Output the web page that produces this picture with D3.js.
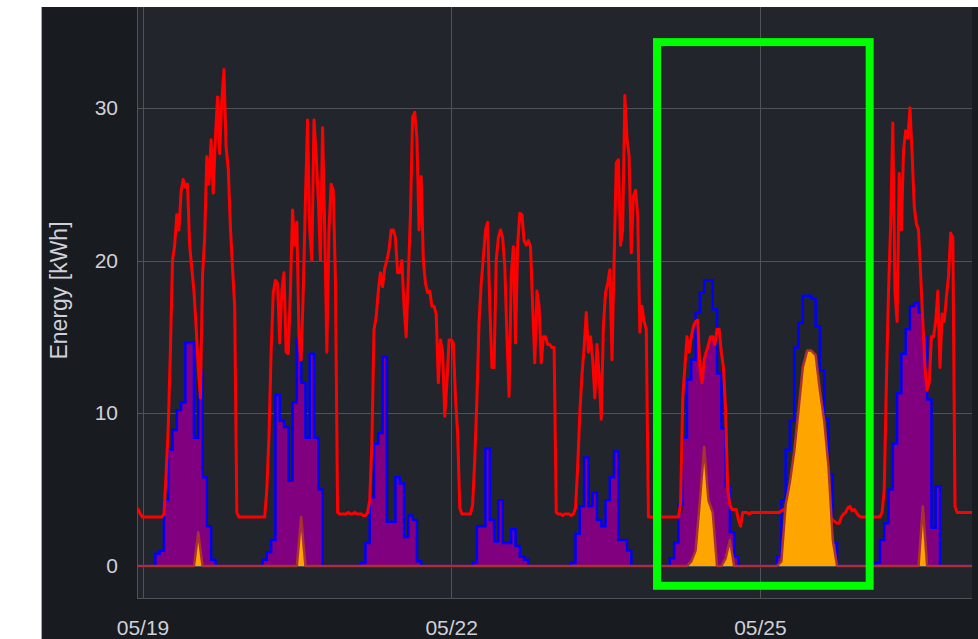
<!DOCTYPE html>
<html>
<head>
<meta charset="utf-8">
<script src="https://cdn.jsdelivr.net/npm/d3@7/dist/d3.min.js"></script>
<style>
  html, body { margin: 0; padding: 0; background: #fff; }
  svg { display: block; }
  text { font-family: "Liberation Sans", Arial, sans-serif; }
</style>
</head>
<body>
<div id="chart"></div>
<script>
// all series start at 2023-05-18 22:00 UTC
const startTime = Date.UTC(2023, 4, 18, 22);

// red line: consumption [kWh], one value every 30 min
const consumption = [
  3.8, 3.8, 3.7, 3.4,
  // 05/19
  3.2, 3.2, 3.2, 3.2, 3.2, 3.2, 3.2, 3.2, 3.2, 3.2,
  3.4, 6, 9, 14, 20, 21, 23, 22, 24.5, 25.3,
  24.8, 25, 21, 19.5, 18, 15.7, 13, 11, 19, 21.5,
  26.8, 25, 27.9, 24.4, 28, 30.7, 27, 30.5, 32.5, 27.4,
  26, 22.2, 19.5, 17, 3.5, 3.2, 3.2, 3.2,
  // 05/20
  3.2, 3.2, 3.2, 3.2, 3.2, 3.2, 3.2, 3.2, 3.2, 3.2,
  5, 8.5, 14, 17.9, 18.7, 18.5, 14.6, 18, 19.2, 14,
  13.9, 18, 23.3, 21, 22.5, 15, 13.5, 18, 24, 29.2,
  22, 20, 29.2, 27, 24, 20, 28.7, 22, 14, 22,
  25, 24.6, 18.7, 3.5, 3.4, 3.4, 3.4, 3.4,
  // 05/21
  3.5, 3.4, 3.4, 3.5, 3.4, 3.4, 3.4, 3.3, 3.3, 3.5,
  4.3, 8, 15.5, 16.3, 18, 19.2, 18.3, 19.5, 20, 20.7,
  22, 22, 21.5, 19.2, 19.2, 20, 17, 15, 19, 23,
  29.4, 29.7, 28, 22, 25.5, 20, 18.5, 17.9, 18, 17,
  17, 16.5, 12, 14.8, 14, 9.8, 12, 14.8,
  // 05/22
  14.8, 14.6, 11, 8.7, 3.8, 3.4, 3.4, 3.4, 3.4, 3.4,
  4, 7, 11, 16, 18.5, 20.2, 22, 22.5, 17, 13,
  13, 20, 21.5, 22, 21.5, 19.6, 15, 11.1, 19, 20.9,
  14.6, 21, 23.1, 23, 21.3, 21, 21.3, 20.9, 17, 13.3,
  18, 17, 13.3, 15, 15, 14.5, 14.5, 14.3,
  // 05/23
  14.3, 3.5, 3.4, 3.4, 3.3, 3.4, 3.4, 3.4, 3.3, 3.4,
  3.8, 6.5, 10, 12.5, 14.3, 16.6, 14, 15, 13.5, 11,
  14.5, 12.5, 9.6, 15.7, 17.9, 18.5, 19.4, 13.5, 20, 26.4,
  26.6, 21, 22, 30.8, 28, 26.8, 20.5, 24.2, 24.6, 23,
  15.3, 17, 16, 15.5, 3.2, 3.2, 3.2, 3.2,
  // 05/24
  3.2, 3.2, 3.2, 3.2, 3.2, 3.2, 3.2, 3.2, 3.2, 3.2,
  3.2, 4.1, 11, 13, 15, 14, 15, 15.7, 16, 16.1,
  13, 12, 13.5, 14, 14.5, 15, 15, 14.5, 15.5, 15.5,
  14, 13, 10.2, 5, 4, 3.7, 3.7, 3.7, 3, 2.6,
  3.5, 3.5, 3.5, 3.4, 3.5, 3.5, 3.5, 3.5,
  // 05/25
  3.5, 3.5, 3.5, 3.5, 3.5, 3.5, 3.5, 3.5, 3.5, 3.5,
  3.6, 3.7, 3.5, 3.5, 3.5, 3.5, 3.5, 3.5, 3.5, 3.5,
  3.5, 3.5, 3.5, 3.5, 3.5, 3.5, 3.5, 3.5, 3.5, 3.5,
  3.5, 3.5, 3.3, 3.2, 3, 2.9, 2.8, 2.8, 3.2, 3.4,
  3.5, 3.8, 3.9, 3.6, 3.7, 3.5, 3.3, 3.2,
  // 05/26
  3.2, 3.2, 3.2, 3.2, 3.2, 3.2, 3.2, 3.2, 3.2, 3.5,
  5, 12, 18, 22.4, 29, 18, 16, 25.7, 22, 27.2,
  28.5, 28, 30, 27, 23.5, 22.4, 22, 19, 16, 13,
  11.5, 12, 15, 15, 16, 18, 13, 16.5, 16, 17.6,
  19, 21.8, 21.5, 3.9, 3.5, 3.5, 3.5, 3.5,
  // 05/27
  3.5, 3.5, 3.5, 3.5, 3.5, 3.5, 3.5, 3.5
];

// blue line: PV production [kWh], hourly
const production = [
  0, 0,
  0, 0, 0, 0.8, 1.0, 4.3, 7.6, 8.9, 10.2, 10.7, 14.6, 14.6, 8.4, 12.8, 5.8, 2.6, 0.4, 0, 0, 0, 0, 0, 0, 0,
  0, 0, 0, 0, 0.4, 0.9, 1.7, 11.2, 9.5, 9.1, 5.6, 10.7, 14.9, 12, 8.4, 13.9, 8.4, 5, 0, 0, 0, 0, 0, 0,
  0, 0, 0, 0.2, 1.5, 4.5, 8, 8.7, 13.7, 2.9, 2.9, 5.8, 5.4, 1.9, 3.3, 3.0, 0.3, 0, 0, 0, 0, 0, 0, 0,
  0, 0, 0, 0, 0, 0.2, 2.6, 2.6, 7.7, 3.0, 1.6, 4.3, 1.5, 1.5, 2.4, 1.3, 0.6, 0.4, 0, 0, 0, 0, 0, 0,
  0, 0, 0, 0, 0.2, 2.1, 3.9, 7.1, 3.9, 4.8, 3, 2.6, 4.3, 5.8, 7.5, 1.7, 1.7, 1, 0, 0, 0, 0, 0, 0,
  0, 0, 0, 0.5, 1.5, 4, 8.4, 12.2, 13.5, 16.6, 17.9, 18.7, 18.7, 16.8, 12.6, 9, 5.2, 2.2, 0.6, 0, 0, 0, 0, 0,
  0, 0, 0, 0, 0.6, 4.3, 7.6, 9.5, 14.3, 15.9, 17.7, 17.7, 17.5, 15.7, 12.8, 9.6, 6, 1.5, 0, 0, 0, 0, 0, 0,
  0, 0, 0, 0.2, 1.7, 2.8, 5, 8, 11.3, 13.9, 15.5, 17, 17.2, 16.6, 15, 10.9, 2.5, 5.2, 0, 0, 0, 0, 0, 0,
  0, 0, 0, 0
];

// purple area: self consumption [kWh], hourly
const selfUse = [
  0, 0,
  0, 0, 0, 0.8, 1.0, 4.3, 7.6, 8.9, 10.2, 10.7, 14.6, 14.6, 8.4, 12.8, 5.8, 2.6, 0.4, 0, 0, 0, 0, 0, 0, 0,
  0, 0, 0, 0, 0.4, 0.9, 1.7, 11.2, 9.5, 9.1, 5.6, 10.7, 14.9, 12, 8.4, 13.9, 8.4, 5, 0, 0, 0, 0, 0, 0,
  0, 0, 0, 0.2, 1.5, 4.5, 8, 8.7, 13.7, 2.9, 2.9, 5.8, 5.4, 1.9, 3.3, 3.0, 0.3, 0, 0, 0, 0, 0, 0, 0,
  0, 0, 0, 0, 0, 0.2, 2.6, 2.6, 7.7, 3.0, 1.6, 4.3, 1.5, 1.5, 2.4, 1.3, 0.6, 0.4, 0, 0, 0, 0, 0, 0,
  0, 0, 0, 0, 0.2, 2.1, 3.9, 7.1, 3.9, 4.8, 3, 2.6, 4.3, 5.8, 7.5, 1.7, 1.7, 1, 0, 0, 0, 0, 0, 0,
  0, 0, 0, 0.5, 1.5, 3.5, 8.4, 12.2, 13.5, 15.5, 13, 14, 15, 15, 12.6, 9, 5.2, 2.2, 0.6, 0, 0, 0, 0, 0,
  0, 0, 0, 0, 0.6, 1.5, 3.3, 3.3, 3.3, 3.3, 3.3, 3.3, 3.3, 3.3, 3.3, 3.3, 3.3, 1.5, 0, 0, 0, 0, 0, 0,
  0, 0, 0, 0.2, 1.7, 2.8, 5, 8, 11.3, 13.9, 15.5, 17, 17.2, 16.6, 15, 10.9, 2.5, 5.2, 0, 0, 0, 0, 0, 0,
  0, 0, 0, 0
];

// orange area: battery charge [kWh], hourly
const charge = [
  0, 0,
  0, 0, 0, 0, 0, 0, 0, 0, 0, 0, 0, 0, 0, 2.2, 0, 0, 0, 0, 0, 0, 0, 0, 0, 0,
  0, 0, 0, 0, 0, 0, 0, 0, 0, 0, 0, 0, 0, 3.2, 0, 0, 0, 0, 0, 0, 0, 0, 0, 0,
  0, 0, 0, 0, 0, 0, 0, 0, 0, 0, 0, 0, 0, 0, 0, 0, 0, 0, 0, 0, 0, 0, 0, 0,
  0, 0, 0, 0, 0, 0, 0, 0, 0, 0, 0, 0, 0, 0, 0, 0, 0, 0, 0, 0, 0, 0, 0, 0,
  0, 0, 0, 0, 0, 0, 0, 0, 0, 0, 0, 0, 0, 0, 0, 0, 0, 0, 0, 0, 0, 0, 0, 0,
  0, 0, 0, 0, 0, 0, 0, 0, 0.3, 1, 4.3, 7.8, 4.3, 3.5, 0, 0, 0.5, 1.7, 0, 0, 0, 0, 0, 0,
  0, 0, 0, 0, 0, 0.3, 4, 5.5, 7.5, 10.2, 13, 14.1, 14.1, 13.8, 11.5, 9.5, 6.5, 1.7, 0, 0, 0, 0, 0, 0,
  0, 0, 0, 0, 0, 0, 0, 0, 0, 0, 0, 0, 0, 0, 3.9, 0, 0, 0, 0, 0, 0, 0, 0, 0,
  0, 0, 0, 0
];

const xTicks = [Date.UTC(2023, 4, 19), Date.UTC(2023, 4, 22), Date.UTC(2023, 4, 25)];
const yTicks = [0, 10, 20, 30];

// green highlight box (time range and value range)
const highlightTime = [Date.UTC(2023, 4, 24, 0, 0), Date.UTC(2023, 4, 26, 1, 36)];
const highlightValue = [-1.3, 34.3];

const W = 978, H = 639;
const plot = {left: 137, right: 972, top: 7, bottom: 598};

const x = d3.scaleUtc()
  .domain([new Date(Date.UTC(2023, 4, 18, 22, 43)), new Date(Date.UTC(2023, 4, 27, 1, 28))])
  .range([plot.left, plot.right]);
const y = d3.scaleLinear().domain([-2.1, 36.6]).range([plot.bottom, plot.top]);

// hourly rows for the PV / self use / charge series
const hourly = production.map(function(v, i) {
  return {
    t: new Date(startTime + i * 3600e3),
    pv: v,
    self: selfUse[i],
    chg: charge[i]
  };
});
// half hourly rows for the consumption
const halfHourly = consumption.map(function(v, i) {
  return {t: new Date(startTime + i * 1800e3), cons: v};
});

const svg = d3.select("#chart").append("svg")
  .attr("width", W)
  .attr("height", H);

// panel
svg.append("rect").attr("x", 41).attr("y", 7).attr("width", W - 41).attr("height", H - 7).attr("fill", "#181b1f");
svg.append("line").attr("x1", 41.5).attr("x2", 41.5).attr("y1", 7).attr("y2", H)
  .attr("stroke", "#a8a8a8").attr("stroke-width", 1);

svg.append("rect")
  .attr("x", plot.left).attr("y", plot.top)
  .attr("width", plot.right - plot.left).attr("height", plot.bottom - plot.top)
  .attr("fill", "#22252b");

// grid
const grid = svg.append("g").attr("stroke", "#4f5257").attr("stroke-width", 1);
grid.selectAll(".gx").data(xTicks).enter().append("line")
  .attr("x1", d => Math.round(x(d)) + 0.5).attr("x2", d => Math.round(x(d)) + 0.5)
  .attr("y1", plot.top).attr("y2", plot.bottom);
grid.selectAll(".gy").data(yTicks).enter().append("line")
  .attr("x1", plot.left).attr("x2", plot.right)
  .attr("y1", d => Math.round(y(d)) + 0.5).attr("y2", d => Math.round(y(d)) + 0.5);
// marco del area de dibujo (izquierda / abajo)
grid.append("line").attr("x1", plot.left + 0.5).attr("x2", plot.left + 0.5).attr("y1", plot.top).attr("y2", plot.bottom);
grid.append("line").attr("x1", plot.left).attr("x2", plot.right).attr("y1", plot.bottom + 0.5).attr("y2", plot.bottom + 0.5);

svg.append("defs").append("clipPath").attr("id", "plotClip")
  .append("rect")
  .attr("x", plot.left + 1).attr("y", plot.top)
  .attr("width", plot.right - plot.left - 1).attr("height", plot.bottom - plot.top);

const g = svg.append("g").attr("clip-path", "url(#plotClip)");

const selfArea = d3.area().curve(d3.curveStepAfter)
  .x(d => x(d.t)).y0(y(0)).y1(d => y(d.self));
const pvLine = d3.line().curve(d3.curveStepAfter)
  .x(d => x(d.t)).y(d => y(d.pv));
const consLine = d3.line()
  .x(d => x(d.t)).y(d => y(d.cons));
const chgArea = d3.area()
  .x(d => x(d.t)).y0(y(0)).y1(d => y(d.chg));
const chgLine = d3.line()
  .x(d => x(d.t)).y(d => y(d.chg));

g.append("path").datum(hourly).attr("d", selfArea).attr("fill", "#800080");
g.append("path").datum(hourly).attr("d", pvLine)
  .attr("fill", "none").attr("stroke", "#0000ff").attr("stroke-width", 2.5);
g.append("path").datum(halfHourly).attr("d", consLine)
  .attr("fill", "none").attr("stroke", "#ff0000").attr("stroke-width", 3)
  .attr("stroke-linejoin", "round");
g.append("path").datum(hourly).attr("d", chgArea).attr("fill", "#ffa500");
g.append("path").datum(hourly).attr("d", chgLine)
  .attr("fill", "none").attr("stroke", "#a8322f").attr("stroke-width", 2.5)
  .attr("stroke-linejoin", "round");

// ejes (solo etiquetas)
const axisX = svg.append("g")
  .attr("transform", "translate(0," + plot.bottom + ")")
  .call(d3.axisBottom(x).tickValues(xTicks.map(d => new Date(d)))
    .tickFormat(d3.utcFormat("%m/%d")).tickSize(0).tickPadding(22));
const axisY = svg.append("g")
  .attr("transform", "translate(" + plot.left + ",0)")
  .call(d3.axisLeft(y).tickValues(yTicks).tickSize(0).tickPadding(19));
[axisX, axisY].forEach(function(a) {
  a.select(".domain").remove();
  a.selectAll("text").attr("fill", "#d0d0da").style("font-size", "21px")
    .style("font-family", "'Liberation Sans', Arial, sans-serif");
});

svg.append("text")
  .attr("transform", "translate(67," + ((plot.top + plot.bottom) / 2 - 12) + ") rotate(-90)")
  .attr("text-anchor", "middle")
  .attr("fill", "#d0d0da")
  .style("font-size", "23px")
  .text("Energy [kWh]");

// highlight box
svg.append("rect")
  .attr("x", x(new Date(highlightTime[0])))
  .attr("y", y(highlightValue[1]))
  .attr("width", x(new Date(highlightTime[1])) - x(new Date(highlightTime[0])))
  .attr("height", y(highlightValue[0]) - y(highlightValue[1]))
  .attr("fill", "none")
  .attr("stroke", "#00ff00")
  .attr("stroke-width", 8);
</script>
</body>
</html>
